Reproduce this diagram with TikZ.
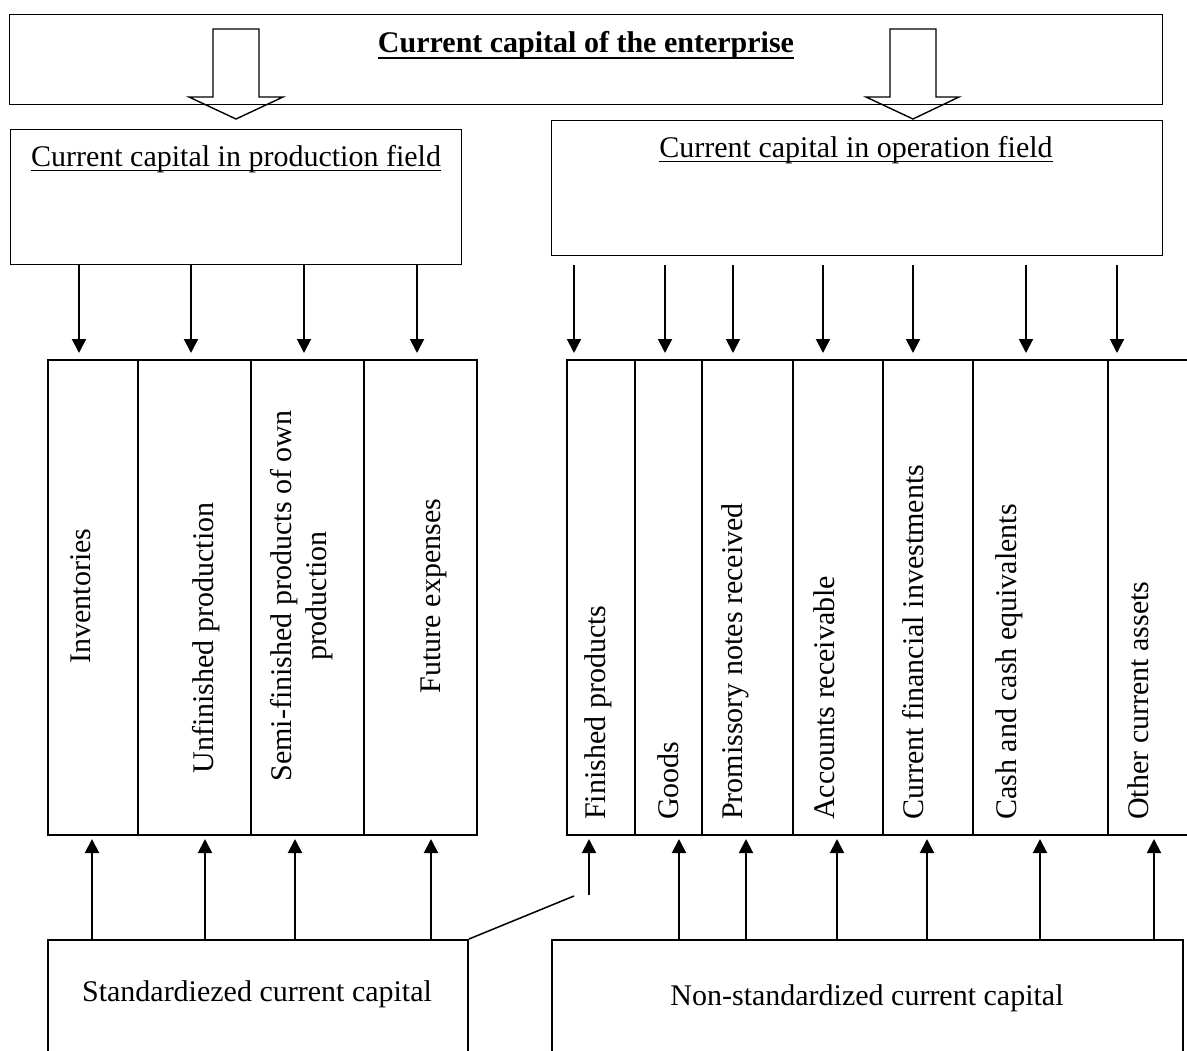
\documentclass[tikz,border=0pt]{standalone}
\usepackage{fontspec}
\setmainfont{Liberation Serif}
\usetikzlibrary{arrows.meta,calc}
\begin{document}
\begin{tikzpicture}[x=1pt,y=-1pt,
  every node/.style={font=\fontsize{30}{35}\selectfont},
  box/.style={draw, line width=1.3pt, inner sep=0pt, anchor=north west},
  cell/.style={draw, line width=2pt, inner sep=0pt, anchor=north west, minimum height=475pt},
  arr/.style={line width=2pt, -{Triangle[width=14pt,length=14pt]}},
  txt/.style={inner sep=0pt},
  vtxt/.style={inner sep=0pt, rotate=90},
  rtxt/.style={inner sep=0pt, rotate=90, anchor=west},
  blockarrow/.style={line width=1.4pt, line join=miter},
  uline/.style={line width=1.3pt}
  ]
\useasboundingbox (0,0) rectangle (1187,1051);
\clip (0,0) rectangle (1187,1051);

% top box
\node[box, minimum width=1153pt, minimum height=90pt] (top) at (9,14) {};
\node[txt, anchor=base] (title) at (586,53) {\bfseries Current capital of the enterprise};
\draw[line width=2.6pt] ([yshift=-5pt]title.base west) -- ([yshift=-5pt]title.base east);

% block arrows
\draw[blockarrow] (213,29) -- (259,29) -- (259,97) -- (283,97) -- (236,119) -- (189,97) -- (213,97) -- cycle;
\draw[blockarrow] (890,29) -- (936,29) -- (936,97) -- (959,97) -- (913,119) -- (866,97) -- (890,97) -- cycle;

% field boxes
\node[box, minimum width=451pt, minimum height=135pt] (prod) at (10,129) {};
\node[txt, anchor=base] (ptitle) at (236,167) {Current capital in production field};
\draw[uline] ([yshift=-3.5pt]ptitle.base west) -- ([yshift=-3.5pt]ptitle.base east);
\node[box, minimum width=611pt, minimum height=135pt] (op) at (551,120) {};
\node[txt, anchor=base] (otitle) at (856,158) {Current capital in operation field};
\draw[uline] ([yshift=-3.5pt]otitle.base west) -- ([yshift=-3.5pt]otitle.base east);

% left cells
\node[cell, minimum width=90pt] (c1) at (47,359) {};
\node[cell, minimum width=113pt] (c2) at (137,359) {};
\node[cell, minimum width=113pt] (c3) at (250,359) {};
\node[cell, minimum width=113pt] (c4) at (363,359) {};

\node[vtxt] (t1) at (81,596) {Inventories};
\node[vtxt] (t2) at (206,638) {Unfinished production};
\node[vtxt, align=center] (t3) at (302,596) {Semi-finished products of own\\production};
\node[vtxt] (t4) at (434,596) {Future expenses};

% right cells
\node[cell, minimum width=68pt] (r1) at (566,359) {};
\node[cell, minimum width=67pt] (r2) at (634,359) {};
\node[cell, minimum width=91pt] (r3) at (701,359) {};
\node[cell, minimum width=90pt] (r4) at (792,359) {};
\node[cell, minimum width=90pt] (r5) at (882,359) {};
\node[cell, minimum width=135pt] (r6) at (972,359) {};
\node[cell, minimum width=95pt] (r7) at (1107,359) {};

\node[rtxt] (s1) at (598,820) {Finished products};
\node[rtxt] (s2) at (668,820) {Goods};
\node[rtxt] (s3) at (735,820) {Promissory notes received};
\node[rtxt] (s4) at (824,820) {Accounts receivable};
\node[rtxt] (s5) at (913,820) {Current financial investments};
\node[rtxt] (s6) at (1009,820) {Cash and cash equivalents};
\node[rtxt] (s7) at (1138,820) {Other current assets};

% bottom boxes
\node[cell, minimum width=420pt, minimum height=130pt] (std) at (47,939) {};
\node[txt] (stdt) at (257,994) {Standardiezed current capital};
\node[cell, minimum width=631pt, minimum height=130pt] (nstd) at (551,939) {};
\node[txt] (nstdt) at (867,998) {Non-standardized current capital};

% down arrows left
\foreach \x/\c in {79/c1,191/c2,304/c3,417/c4}
  \draw[arr, shorten >=6pt] (prod.south -| \x,0) -- (\c.north -| \x,0);
% down arrows right
\foreach \x/\c in {574/r1,665/r2,733/r3,823/r4,913/r5,1026/r6,1117/r7}
  \draw[arr, shorten <=9pt, shorten >=6pt] (op.south -| \x,0) -- (\c.north -| \x,0);

% up arrows left
\foreach \x/\c in {92/c1,205/c2,295/c3,431/c4}
  \draw[arr, shorten >=3pt] (std.north -| \x,0) -- (\c.south -| \x,0);
% up arrows right
\foreach \x/\c in {679/r2,746/r3,837/r4,927/r5,1040/r6,1154/r7}
  \draw[arr, shorten >=3pt] (nstd.north -| \x,0) -- (\c.south -| \x,0);

% finished products arrow and slanted line
\coordinate (fp) at (589,895);
\coordinate (fs) at (574,896);
\draw[arr, shorten >=3pt] (fp) -- (r1.south -| fp);
\draw[line width=1.5pt] (fs) -- (std.north east);
\end{tikzpicture}
\end{document}
